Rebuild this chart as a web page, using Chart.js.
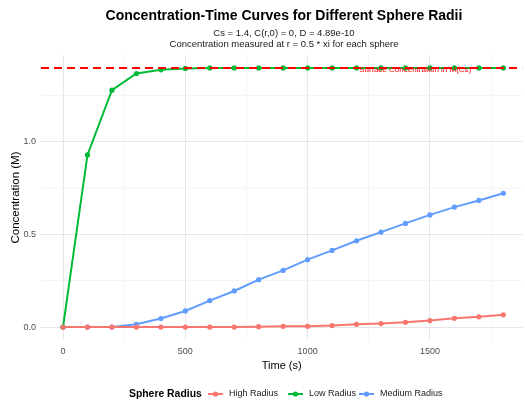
<!DOCTYPE html>
<html>
<head>
<meta charset="utf-8">
<script src="https://cdn.jsdelivr.net/npm/chart.js@4"></script>
<style>
  html, body { margin: 0; padding: 0; background: #fff; }
  #wrap { width: 525px; height: 403px; }
</style>
</head>
<body>
<div id="wrap"><canvas id="chart" width="525" height="403"></canvas></div>
<script>
// time points (s)
const times = [0, 100, 200, 300, 400, 500, 600, 700, 800, 900, 1000, 1100, 1200, 1300, 1400, 1500, 1600, 1700, 1800];

// concentration at r = 0.5 * xi for each sphere
const highRadius = [0, 0, 0, 0, 0, 0, 0, 0, 0.002, 0.004, 0.004, 0.008, 0.015, 0.019, 0.026, 0.035, 0.047, 0.055, 0.066];
const lowRadius = [0, 0.93, 1.28, 1.37, 1.39, 1.397, 1.4, 1.4, 1.4, 1.4, 1.4, 1.4, 1.4, 1.4, 1.4, 1.4, 1.4, 1.4, 1.4];
const mediumRadius = [0, 0, 0, 0.015, 0.046, 0.087, 0.143, 0.195, 0.256, 0.306, 0.364, 0.414, 0.466, 0.513, 0.56, 0.606, 0.648, 0.684, 0.723];

const surfaceConc = 1.4;
const xLimits = [-90, 1878];
const xTicks = [0, 250, 500, 750, 1000, 1250, 1500, 1750];
const yTicks = [0, 0.25, 0.5, 0.75, 1.0, 1.25];

const seriesNames = ['High Radius', 'Low Radius', 'Medium Radius'];
const seriesColors = ['#F8766D', '#00BA38', '#619CFF'];

function toPoints(values) {
    return times.map((t, i) => ({ x: t, y: values[i] }));
}

function lineSet(label, values, color) {
    return {
        label: label,
        data: toPoints(values),
        borderColor: color,
        backgroundColor: color,
        borderWidth: 2,
        pointRadius: 2.6,
        pointHoverRadius: 2.6,
        pointBorderWidth: 0,
        tension: 0
    };
}

function isMajor(v, step) {
    return Math.abs(v / step - Math.round(v / step)) < 1e-6;
}

// titles, annotation and legend drawn on the canvas
const decorations = {
    id: 'decorations',
    afterDraw(chart) {
        const ctx = chart.ctx;
        const xs = chart.scales.x;
        const ys = chart.scales.y;
        const cx = 284;

        ctx.save();
        ctx.textAlign = 'center';
        ctx.textBaseline = 'middle';
        ctx.fillStyle = '#000';
        ctx.font = 'bold 14px "Liberation Sans", Arial, sans-serif';
        ctx.fillText('Concentration-Time Curves for Different Sphere Radii', cx, 16);
        ctx.fillStyle = '#1a1a1a';
        ctx.font = '9.5px "Liberation Sans", Arial, sans-serif';
        ctx.fillText('Cs = 1.4, C(r,0) = 0, D = 4.89e-10', cx, 33);
        ctx.fillText('Concentration measured at r = 0.5 * xi for each sphere', cx, 44);

        // annotation on the surface concentration line
        ctx.fillStyle = '#FF0000';
        ctx.font = '8px "Liberation Sans", Arial, sans-serif';
        ctx.fillText('Surface Concentration in M(Cs)', xs.getPixelForValue(1440), ys.getPixelForValue(surfaceConc) + 1.5);

        // legend
        const ly = 394;
        ctx.textAlign = 'left';
        ctx.fillStyle = '#000';
        ctx.font = 'bold 10.4px "Liberation Sans", Arial, sans-serif';
        ctx.fillText('Sphere Radius', 129, ly);
        const keyX = [208, 288, 359];
        ctx.font = '9px "Liberation Sans", Arial, sans-serif';
        seriesNames.forEach((name, i) => {
            const x0 = keyX[i];
            ctx.strokeStyle = seriesColors[i];
            ctx.lineWidth = 2;
            ctx.beginPath();
            ctx.moveTo(x0, ly);
            ctx.lineTo(x0 + 15, ly);
            ctx.stroke();
            ctx.fillStyle = seriesColors[i];
            ctx.beginPath();
            ctx.arc(x0 + 7.5, ly, 2.6, 0, Math.PI * 2);
            ctx.fill();
            ctx.fillStyle = '#1a1a1a';
            ctx.fillText(name, x0 + 21, ly);
        });
        ctx.restore();
    }
};

const ctx = document.getElementById('chart').getContext('2d');
new Chart(ctx, {
    type: 'line',
    data: {
        datasets: [
            lineSet(seriesNames[0], highRadius, seriesColors[0]),
            lineSet(seriesNames[1], lowRadius, seriesColors[1]),
            lineSet(seriesNames[2], mediumRadius, seriesColors[2]),
            {
                label: 'Surface Concentration',
                data: [{ x: xLimits[0], y: surfaceConc }, { x: xLimits[1], y: surfaceConc }],
                borderColor: '#FF0000',
                borderWidth: 2,
                borderDash: [8, 5],
                pointRadius: 0,
                order: -1
            }
        ]
    },
    options: {
        responsive: false,
        animation: false,
        layout: { padding: { top: 55, bottom: 30, left: 0, right: 0 } },
        plugins: {
            legend: { display: false },
            tooltip: { enabled: false }
        },
        scales: {
            x: {
                type: 'linear',
                min: xLimits[0],
                max: xLimits[1],
                afterBuildTicks: scale => { scale.ticks = xTicks.map(v => ({ value: v })); },
                afterFit: scale => { scale.height = 33; },
                border: { display: false },
                grid: {
                    drawTicks: false,
                    color: c => (c.tick && isMajor(c.tick.value, 500)) ? '#e6e6e6' : '#f2f2f2',
                    lineWidth: c => (c.tick && isMajor(c.tick.value, 500)) ? 1 : 0.8
                },
                ticks: {
                    padding: 6,
                    maxRotation: 0,
                    autoSkip: false,
                    color: '#4d4d4d',
                    font: { family: '"Liberation Sans", Arial, sans-serif', size: 9 },
                    callback: v => (isMajor(v, 500) ? String(v) : '')
                },
                title: {
                    display: true,
                    text: 'Time (s)',
                    color: '#000',
                    padding: { top: 2, bottom: 0 },
                    font: { family: '"Liberation Sans", Arial, sans-serif', size: 11 }
                }
            },
            y: {
                type: 'linear',
                min: -0.07,
                max: 1.47,
                afterBuildTicks: scale => { scale.ticks = yTicks.map(v => ({ value: v })); },
                afterFit: scale => { scale.width = 41; },
                border: { display: false },
                grid: {
                    drawTicks: false,
                    color: c => (c.tick && isMajor(c.tick.value, 0.5)) ? '#e6e6e6' : '#f2f2f2',
                    lineWidth: c => (c.tick && isMajor(c.tick.value, 0.5)) ? 1 : 0.8
                },
                ticks: {
                    padding: 5,
                    autoSkip: false,
                    color: '#4d4d4d',
                    font: { family: '"Liberation Sans", Arial, sans-serif', size: 9 },
                    callback: v => (isMajor(v, 0.5) ? v.toFixed(1) : '')
                },
                title: {
                    display: true,
                    text: 'Concentration (M)',
                    color: '#000',
                    padding: { top: 9, bottom: 0 },
                    font: { family: '"Liberation Sans", Arial, sans-serif', size: 11.5 }
                }
            }
        }
    },
    plugins: [decorations]
});
</script>
</body>
</html>
